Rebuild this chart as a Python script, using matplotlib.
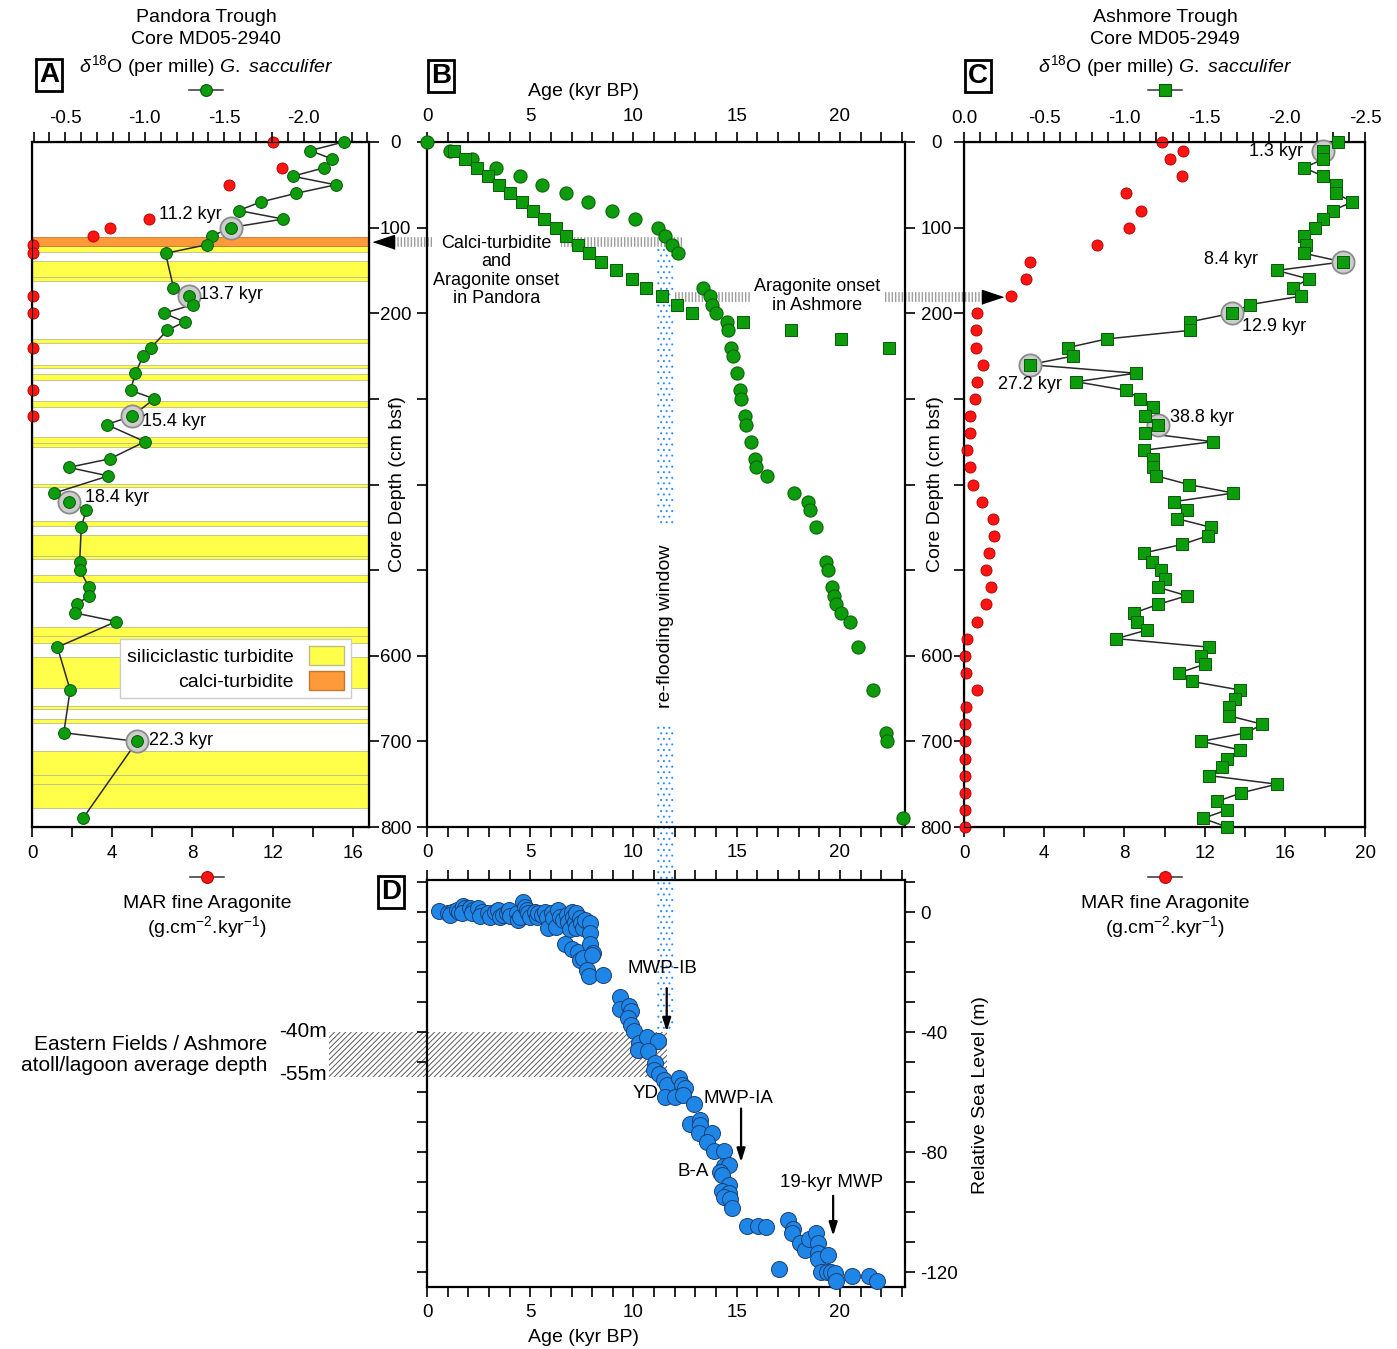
import matplotlib
matplotlib.use('Agg')
import matplotlib.pyplot as plt
from matplotlib.patches import Rectangle, Patch
from matplotlib.lines import Line2D
from matplotlib.ticker import MultipleLocator, FuncFormatter

plt.rcParams['font.family'] = ['Liberation Sans', 'DejaVu Sans']
plt.rcParams['mathtext.fontset'] = 'custom'
plt.rcParams['mathtext.rm'] = 'Liberation Sans'
plt.rcParams['mathtext.it'] = 'Liberation Sans:italic'
plt.rcParams['axes.unicode_minus'] = False
plt.rcParams['lines.scale_dashes'] = False
plt.rcParams['hatch.linewidth'] = 0.7

# ---------------- data ----------------
# Pandora Trough, core MD05-2940 (panel A and circles in B)
depth_AB = [0, 10, 20, 30, 40, 50, 60, 70, 80, 90, 100, 110, 120, 130, 170, 180, 190,
            200, 210, 220, 240, 250, 270, 290, 300, 320, 330, 350, 370, 380, 390, 410,
            420, 430, 450, 490, 500, 520, 530, 540, 550, 560, 590, 640, 690, 700, 790]
d18_A = [-2.25, -2.04, -2.18, -2.13, -1.93, -2.20, -1.95, -1.73, -1.59, -1.87, -1.54,
         -1.42, -1.39, -1.13, -1.18, -1.28, -1.30, -1.12, -1.25, -1.14, -1.04, -0.99,
         -0.94, -0.91, -1.06, -0.92, -0.76, -1.00, -0.78, -0.52, -0.77, -0.43, -0.52,
         -0.63, -0.60, -0.59, -0.59, -0.65, -0.65, -0.57, -0.56, -0.82, -0.45, -0.53,
         -0.49, -0.95, -0.61]
age_A = [0.0, 1.11, 2.20, 3.36, 4.49, 5.57, 6.74, 7.80, 8.94, 10.05, 11.21, 11.51, 11.85,
         12.18, 13.38, 13.73, 13.78, 14.01, 14.51, 14.56, 14.73, 14.81, 15.01, 15.17,
         15.21, 15.42, 15.47, 15.67, 15.87, 15.92, 16.47, 17.78, 18.45, 18.53, 18.83,
         19.33, 19.42, 19.63, 19.72, 19.83, 20.03, 20.50, 20.87, 21.58, 22.22, 22.27, 23.03]
mar_A_depth = [0, 30, 50, 90, 100, 110, 120, 130, 180, 200, 240, 290, 320]
mar_A = [12.0, 12.47, 9.84, 5.84, 3.88, 3.05, 0.05, 0.05, 0.05, 0.05, 0.05, 0.05, 0.05]
sili_beds = [(122, 128), (139.5, 157.5), (157.5, 162), (230.5, 234.5), (260.5, 264.5),
             (270.5, 278.5), (302, 310), (344.5, 351), (351, 356), (399, 402.5),
             (442.5, 448.5), (459.5, 483), (483, 487), (506, 514), (567, 577.5),
             (577.5, 585), (601, 638), (658.5, 662.5), (674, 679), (711, 739.5),
             (739.5, 750), (750, 777.5)]
calci_beds = [(111, 122)]
ringA_depth = [100, 180, 320, 420, 700]
ringA_label = ['11.2 kyr', '13.7 kyr', '15.4 kyr', '18.4 kyr', '22.3 kyr']

# Ashmore Trough, core MD05-2949 (panel C and squares in B)
depth_C = [0, 10, 20, 30, 40, 50, 60, 70, 80, 90, 100, 110, 120, 130, 140, 150, 160, 170,
           180, 190, 200, 210, 220, 230, 240, 250, 260, 270, 280, 290, 300, 310, 320, 330,
           340, 350, 360, 370, 380, 390, 400, 410, 420, 430, 440, 450, 460, 470, 480, 490,
           500, 510, 520, 530, 540, 550, 560, 570, 580, 590, 600, 610, 620, 630, 640, 650,
           660, 670, 680, 690, 700, 710, 720, 730, 740, 750, 760, 770, 780, 790, 800]
d18_C = [-2.33, -2.24, -2.24, -2.12, -2.24, -2.32, -2.32, -2.42, -2.30, -2.24, -2.19,
         -2.12, -2.13, -2.12, -2.36, -1.95, -2.15, -2.05, -2.10, -1.78, -1.67, -1.41,
         -1.41, -0.89, -0.65, -0.68, -0.41, -1.07, -0.70, -1.01, -1.10, -1.18, -1.13,
         -1.21, -1.13, -1.55, -1.12, -1.18, -1.18, -1.20, -1.40, -1.68, -1.31, -1.39,
         -1.33, -1.54, -1.52, -1.36, -1.12, -1.17, -1.23, -1.25, -1.21, -1.39, -1.21,
         -1.06, -1.08, -1.14, -0.95, -1.53, -1.48, -1.50, -1.34, -1.42, -1.72, -1.69,
         -1.65, -1.65, -1.86, -1.76, -1.48, -1.72, -1.64, -1.61, -1.53, -1.95, -1.73,
         -1.58, -1.64, -1.49, -1.64]
mar_C_depth = [0, 10, 20, 40, 60, 80, 100, 120, 140, 160, 180, 200, 220, 240, 260, 280,
               300, 320, 340, 360, 380, 400, 420, 440, 460, 480, 500, 520, 540, 560, 580,
               600, 620, 640, 660, 680, 700, 720, 740, 760, 780, 800]
mar_C = [9.88, 10.9, 10.29, 10.87, 8.08, 8.83, 8.25, 6.64, 3.30, 3.10, 2.36, 0.66, 0.61,
         0.61, 0.95, 0.66, 0.53, 0.32, 0.32, 0.13, 0.30, 0.47, 0.88, 1.47, 1.52, 1.25,
         1.10, 1.35, 1.10, 0.67, 0.13, 0.05, 0.10, 0.67, 0.10, 0.05, 0.05, 0.05, 0.05,
         0.05, 0.05, 0.05]
age_C_depth = [10, 20, 30, 40, 50, 60, 70, 80, 90, 100, 110, 120, 130, 140, 150, 160, 170,
               180, 190, 200, 210, 220, 230, 240]
age_C = [1.33, 1.86, 2.41, 2.94, 3.49, 4.02, 4.58, 5.14, 5.69, 6.24, 6.74, 7.31, 7.85,
         8.44, 9.13, 9.93, 10.63, 11.38, 12.11, 12.85, 15.29, 17.63, 20.03, 22.38]
ringC_depth = [10, 140, 200, 260, 330]
ringC_label = ['1.3 kyr', '8.4 kyr', '12.9 kyr', '27.2 kyr', '38.8 kyr']

# Relative sea level (panel D)
sl_age = [0.58, 1.03, 1.19, 1.11, 1.44, 1.56, 1.76, 1.84, 1.68, 2.08, 2.24, 2.16, 2.48,
          2.65, 2.56, 2.97, 3.05, 3.29, 3.45, 3.53, 3.69, 3.89, 3.98, 4.02, 4.34, 4.42,
          4.50, 4.63, 4.74, 4.82, 4.90, 4.98, 5.23, 5.31, 5.39, 5.55, 5.71, 5.79, 5.87,
          6.03, 6.11, 6.27, 6.35, 6.44, 6.60, 6.76, 6.84, 6.92, 7.00, 7.08, 7.16, 7.24,
          7.24, 7.40, 7.48, 7.56, 7.65, 7.89, 7.89, 6.68, 7.00, 7.32, 7.40, 7.56, 7.89,
          8.05, 7.97, 7.73, 7.85, 8.53, 9.34, 9.34, 9.79, 9.90, 9.74, 9.90, 10.02,
          10.26, 10.66, 11.19, 10.22, 10.71, 11.06, 10.98, 11.22, 11.46, 11.62, 12.19,
          12.35, 12.51, 11.54, 11.99, 12.38, 12.94, 12.75, 13.23, 13.23, 13.15, 13.80,
          13.55, 13.88, 14.36, 14.36, 14.65, 14.20, 14.31, 14.63, 14.28, 14.63, 14.36,
          14.68, 14.79, 15.49, 16.02, 16.42, 17.50, 17.74, 17.69, 18.06, 18.30, 18.49,
          18.86, 18.94, 18.94, 18.94, 19.40, 17.06, 19.07, 19.35, 19.59, 19.78, 19.80,
          20.59, 21.39, 21.81]
sl_rsl = [0.3, -0.4, 0.1, -1.0, 0.7, 0.1, 2.0, 1.2, -0.4, 1.2, 0.7, -0.4, 1.2, 0.1, -1.3,
          -0.4, -1.6, 0.1, 0.7, -1.6, -1.0, -0.4, 0.7, -1.3, -0.4, -2.7, -1.6, 3.4, 1.8,
          0.7, -0.4, -1.6, 0.1, -1.6, -0.4, -1.0, 0.1, -1.6, -5.4, -0.4, -2.1, -4.9, 0.7,
          -1.6, -2.7, -1.0, -3.2, -5.8, 0.1, -1.6, -3.2, -0.4, -5.4, -2.1, -3.8, -5.4,
          -2.7, -3.8, -7.1, -10.8, -12.4, -13.2, -16.0, -15.4, -10.7, -13.6, -14.3, -19.3,
          -21.2, -21.0, -28.2, -32.4, -31.2, -32.9, -35.4, -37.7, -39.8,
          -43.7, -41.5, -42.9, -45.9, -46.3, -50.4, -52.6, -54.1, -56.0, -57.7, -55.4,
          -57.7, -58.8, -61.8, -61.8, -61.0, -64.0, -70.8, -69.4, -71.1, -73.6, -73.6,
          -76.7, -79.8, -79.8, -84.5, -84.3, -86.5, -87.7, -91.0, -92.9, -93.5, -95.1,
          -95.7, -98.7, -104.7, -104.7, -105.0, -102.6, -105.8, -107.1, -110.2, -112.5,
          -109.1, -107.1, -110.2, -113.8, -115.8, -114.2, -119.0, -120.1, -120.1, -120.1,
          -120.3, -123.1, -121.2, -121.2, -123.1]

depth_ticklabels = ['0', '100', '200', '', '', '', '600', '700', '800']

# ---------------- style ----------------
GREEN, GEDGE = '#0c9c0c', '#075a07'
RED, REDGE = '#ff1414', '#b00000'
BLUE, BEDGE = '#1e86e6', '#1b3f75'
YEL, ORA = '#ffff4a', '#ff9a3a'
RING = dict(marker='o', ls='none', ms=16, mfc='#cdcdcd', mec='#8c8c8c', mew=1.3, zorder=4, clip_on=False)
FS = 13.5

W, H = 1397, 1349
fig = plt.figure(figsize=(W / 100, H / 100), dpi=100)


def box(x0, x1, y0, y1):
    return [x0 / W, 1 - y1 / H, (x1 - x0) / W, (y1 - y0) / H]


def ftext(x, y, s, **kw):
    kw.setdefault('ha', 'center')
    kw.setdefault('va', 'center')
    kw.setdefault('fontsize', 14)
    return fig.text(x / W, 1 - y / H, s, **kw)


def sym(x, y, marker, color, edge):
    h = Line2D([], [], color='#333333', lw=1.1, marker=marker, ms=8.5, mfc=color, mec=edge, mew=0.8)
    fig.legend(handles=[h], labels=[''], loc='center', bbox_to_anchor=(x / W, 1 - y / H),
               frameon=False, handlelength=2.4, handletextpad=0, borderpad=0, borderaxespad=0)


def letter(x, y, s):
    ftext(x, y, s, fontsize=20, fontweight='bold',
          bbox=dict(boxstyle='square,pad=0.12', fc='white', ec='black', lw=2))


def spines(ax):
    for sp in ax.spines.values():
        sp.set_linewidth(1.6)


d18_fmt = FuncFormatter(lambda v, p: '0.0' if abs(v) < 1e-9 else f'{v:.1f}')

axA = fig.add_axes(box(32, 369, 142, 827))
axB = fig.add_axes(box(427, 905, 142, 827))
axC = fig.add_axes(box(964, 1365, 142, 827))
axD = fig.add_axes(box(427, 905, 880, 1287))
axC.patch.set_visible(False)

# ---------------- panel A ----------------
for lo, hi in sili_beds:
    axA.axhspan(lo, hi, fc=YEL, ec='#bdbd8c', lw=0.6, zorder=0)
for lo, hi in calci_beds:
    axA.axhspan(lo, hi, fc=ORA, ec='#c07a30', lw=0.6, zorder=0)
axA.plot(mar_A, mar_A_depth, 'o', ms=8, mfc=RED, mec=REDGE, mew=0.6, clip_on=False, zorder=5)
axA.set_xlim(0, 16.8)
axA.set_ylim(800, 0)
axA.xaxis.set_major_locator(MultipleLocator(4))
axA.xaxis.set_minor_locator(MultipleLocator(2))
axA.yaxis.set_major_locator(MultipleLocator(100))
axA.tick_params(axis='x', which='both', direction='out', length=7, width=1.2, labelsize=FS, pad=6)
axA.tick_params(axis='y', which='both', left=False, right=True, labelleft=False,
                direction='out', length=7, width=1.2)
spines(axA)

axA2 = axA.twiny()
lookA = dict(zip(depth_AB, d18_A))
axA2.plot([lookA[d] for d in ringA_depth], ringA_depth, **RING)
axA2.plot(d18_A, depth_AB, '-', color='#2a2a2a', lw=1.1, zorder=3)
axA2.plot(d18_A, depth_AB, 'o', ms=8.5, mfc=GREEN, mec=GEDGE, mew=0.7, clip_on=False, zorder=5)
axA2.set_xlim(-0.29, -2.41)
axA2.xaxis.set_major_locator(MultipleLocator(0.5))
axA2.xaxis.set_minor_locator(MultipleLocator(0.1))
axA2.xaxis.set_major_formatter(d18_fmt)
axA2.tick_params(axis='x', which='both', direction='out', length=7, width=1.2, labelsize=FS, pad=4)
offA = [(-9, 13, 'right'), (10, 2, 'left'), (10, -5, 'left'), (16, 4, 'left'), (12, 1, 'left')]
for d, lab, (dx, dy, ha) in zip(ringA_depth, ringA_label, offA):
    axA2.annotate(lab, (lookA[d], d), xytext=(dx, dy), textcoords='offset pixels',
                  ha=ha, va='center', fontsize=13, zorder=6)
axA2.legend(handles=[Patch(fc=YEL, ec='#bdbd8c'), Patch(fc=ORA, ec='#c07a30')],
            labels=['siliciclastic turbidite', 'calci-turbidite'], markerfirst=False,
            loc='upper right', bbox_to_anchor=(0.975, 0.288), fancybox=False, framealpha=1,
            edgecolor='#cccccc', fontsize=14, handlelength=1.8, handleheight=1.1,
            borderpad=0.35, labelspacing=0.25, handletextpad=0.8)

# ---------------- panel B ----------------
axB.plot(age_A, depth_AB, 'o', ms=9.5, mfc=GREEN, mec=GEDGE, mew=0.7, clip_on=False, zorder=5)
axB.plot(age_C, age_C_depth, 's', ms=9, mfc=GREEN, mec=GEDGE, mew=0.7, clip_on=False, zorder=5)
axB.set_xlim(0, 23.15)
axB.set_ylim(800, 0)
axB.xaxis.set_major_locator(MultipleLocator(5))
axB.xaxis.set_minor_locator(MultipleLocator(1))
axB.tick_params(axis='x', which='both', top=True, bottom=True, labeltop=True, labelbottom=True,
                direction='out', length=7, width=1.2, labelsize=FS, pad=5)
axB.set_yticks(range(0, 801, 100), depth_ticklabels)
axB.tick_params(axis='y', which='both', left=True, right=True, labelleft=True, labelright=True,
                direction='out', length=7, width=1.2, labelsize=FS, pad=15.5)
for t in axB.yaxis.get_major_ticks():
    t.label1.set_horizontalalignment('center')
    t.label2.set_horizontalalignment('center')
spines(axB)
axB.text(-0.0607, 0.5, 'Core Depth (cm bsf)', transform=axB.transAxes, rotation=90,
         ha='center', va='center', fontsize=14)
axB.text(1.0628, 0.5, 'Core Depth (cm bsf)', transform=axB.transAxes, rotation=90,
         ha='center', va='center', fontsize=14)

# re-flooding window (dotted band through B and D)
band = dict(fill=False, hatch='...', edgecolor='#2a8cff', lw=0, clip_on=False, zorder=1)
axB.add_patch(Rectangle((11.15, 120), 0.8, 327, **band))
axB.add_patch(Rectangle((11.15, 680), 0.8, 151, **band))
axB.text(11.57, 565, 're-flooding window', rotation=90, ha='center', va='center', fontsize=14)

# onset markers
dash = dict(color='#9c9c9c', lw=7, dashes=(1.0, 1.4), dash_capstyle='butt', clip_on=False, zorder=2)
axB.plot([-1.6, 12.33], [116.5, 116.5], **dash)
axB.plot(-1.6, 116.5, marker=[(-1.5, 0), (0, 0.5), (0, -0.5)], ms=30, color='k', clip_on=False, zorder=6)
axB.text(3.37, 150.5, 'Calci-turbidite\nand\nAragonite onset\nin Pandora', ha='center', va='center',
         fontsize=13, linespacing=1.1, zorder=3, bbox=dict(fc='white', ec='none', pad=1))
axB.plot([12.0, 26.86], [180.7, 180.7], **dash)
axB.plot(26.86, 180.7, marker=[(1.5, 0), (0, 0.5), (0, -0.5)], ms=30, color='k', clip_on=False, zorder=6)
axB.text(18.9, 180, 'Aragonite onset\nin Ashmore', ha='center', va='center', fontsize=13,
         linespacing=1.1, zorder=3, bbox=dict(fc='white', ec='none', pad=3))

# ---------------- panel C ----------------
axC.plot(mar_C, mar_C_depth, 'o', ms=8, mfc=RED, mec=REDGE, mew=0.6, clip_on=False, zorder=5)
axC.set_xlim(0, 20)
axC.set_ylim(800, 0)
axC.xaxis.set_major_locator(MultipleLocator(4))
axC.xaxis.set_minor_locator(MultipleLocator(2))
axC.yaxis.set_major_locator(MultipleLocator(100))
axC.tick_params(axis='x', which='both', direction='out', length=7, width=1.2, labelsize=FS, pad=6)
axC.tick_params(axis='y', which='both', left=True, right=False, labelleft=False,
                direction='out', length=7, width=1.2)
spines(axC)

axC2 = axC.twiny()
lookC = dict(zip(depth_C, d18_C))
axC2.plot([lookC[d] for d in ringC_depth], ringC_depth, **RING)
axC2.plot(d18_C, depth_C, '-', color='#2a2a2a', lw=1.1, zorder=3)
axC2.plot(d18_C, depth_C, 's', ms=8.5, mfc=GREEN, mec=GEDGE, mew=0.7, clip_on=False, zorder=5)
axC2.set_xlim(0, -2.5)
axC2.xaxis.set_major_locator(MultipleLocator(0.5))
axC2.xaxis.set_minor_locator(MultipleLocator(0.1))
axC2.xaxis.set_major_formatter(d18_fmt)
axC2.tick_params(axis='x', which='both', direction='out', length=7, width=1.2, labelsize=FS, pad=4)
offC = [(-20, -1, 'right'), (-85, 2, 'right'), (10, -13, 'left'), (0, -20, 'center'), (12, 7, 'left')]
for d, lab, (dx, dy, ha) in zip(ringC_depth, ringC_label, offC):
    axC2.annotate(lab, (lookC[d], d), xytext=(dx, dy), textcoords='offset pixels',
                  ha=ha, va='center', fontsize=13, zorder=6)

# ---------------- panel D ----------------
axD.plot(sl_age, sl_rsl, 'o', ms=11.5, mfc=BLUE, mec=BEDGE, mew=0.7, clip_on=False, zorder=5)
axD.set_xlim(0, 23.15)
axD.set_ylim(-125, 10.67)
axD.xaxis.set_major_locator(MultipleLocator(5))
axD.xaxis.set_minor_locator(MultipleLocator(1))
axD.yaxis.set_major_locator(MultipleLocator(40))
axD.yaxis.set_minor_locator(MultipleLocator(10))
axD.tick_params(axis='x', which='both', top=True, bottom=True, labeltop=False, labelbottom=True,
                direction='out', length=7, width=1.2, labelsize=FS, pad=5)
axD.tick_params(axis='y', which='both', left=True, right=True, labelleft=False, labelright=True,
                direction='out', length=7, width=1.2, labelsize=FS, pad=4)
spines(axD)
axD.add_patch(Rectangle((11.15, -40), 0.8, 59.5, **band))
axD.add_patch(Rectangle((-4.75, -55), 16.35, 15, fill=False, hatch='//////', edgecolor='#5a5a5a',
                        lw=0, clip_on=False, zorder=1))
axD.text(-4.84, -39.7, '-40m', ha='right', va='center', fontsize=15)
axD.text(-4.84, -54.2, '-55m', ha='right', va='center', fontsize=15)
axD.text(-7.75, -47.7, 'Eastern Fields / Ashmore\natoll/lagoon average depth', ha='right',
         va='center', ma='right', fontsize=15, linespacing=1.1)
arr = dict(arrowstyle='-|>,head_length=0.8,head_width=0.25', color='k', lw=1.6, shrinkA=0, shrinkB=0)
axD.annotate('', xy=(11.61, -39.9), xytext=(11.61, -25.4), arrowprops=arr)
axD.annotate('', xy=(15.21, -83.4), xytext=(15.21, -65.5), arrowprops=arr)
axD.annotate('', xy=(19.67, -108.0), xytext=(19.67, -94.6), arrowprops=arr)
axD.text(11.38, -18.7, 'MWP-IB', ha='center', va='center', fontsize=13.5)
axD.text(15.07, -62.1, 'MWP-IA', ha='center', va='center', fontsize=13.5)
axD.text(19.59, -90.1, '19-kyr MWP', ha='center', va='center', fontsize=13.5)
axD.text(12.91, -86.5, 'B-A', ha='center', va='center', fontsize=13.5)
axD.text(10.58, -60.5, 'YD', ha='center', va='center', fontsize=13.5)
axD.text(1.157, 0.472, 'Relative Sea Level (m)', transform=axD.transAxes, rotation=90,
         ha='center', va='center', fontsize=14)

# ---------------- headers and footers ----------------
d18_title = r'$\delta^{18}$O (per mille) $\mathit{G.\ sacculifer}$'
ftext(206, 17, 'Pandora Trough')
ftext(206, 39, 'Core MD05-2940')
ftext(206, 66, d18_title)
sym(206, 91, 'o', GREEN, GEDGE)
ftext(1165, 17, 'Ashmore Trough')
ftext(1165, 39, 'Core MD05-2949')
ftext(1165, 66, d18_title)
sym(1165, 91, 's', GREEN, GEDGE)
ftext(584, 91, 'Age (kyr BP)')
ftext(584, 1337, 'Age (kyr BP)')
for xc in (207, 1165):
    sym(xc, 878, 'o', RED, REDGE)
    ftext(xc, 903, 'MAR fine Aragonite')
    ftext(xc, 927, r'(g.cm$^{-2}$.kyr$^{-1}$)')
letter(49, 75, 'A')
letter(441, 76, 'B')
letter(978, 76, 'C')
letter(391, 892, 'D')

fig.savefig('out.png', dpi=100)
